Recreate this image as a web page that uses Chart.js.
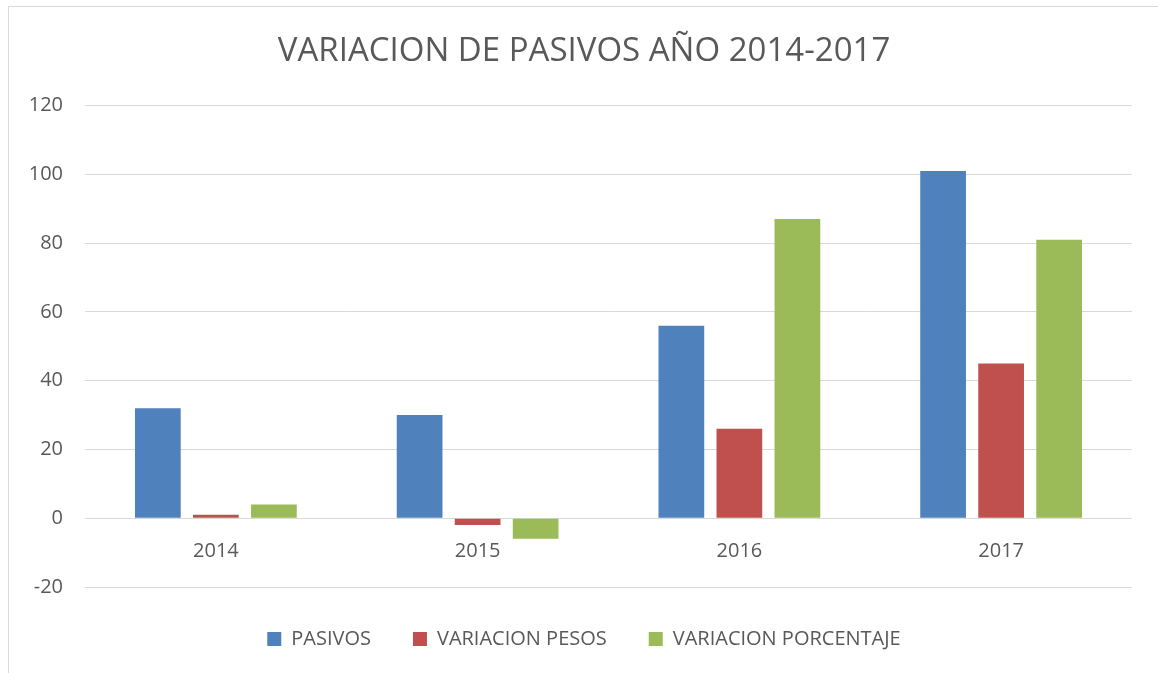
<!DOCTYPE html>
<html>
<head>
<meta charset="utf-8">
<script src="https://cdn.jsdelivr.net/npm/chart.js@4/dist/chart.umd.min.js"></script>
<style>
  html, body { margin: 0; padding: 0; background: #fff; overflow: hidden; }
  .frame { position: absolute; left: 8px; top: 6px; width: 1200px; height: 700px; border: 1px solid #d9d9d9; }
  .wrap { position: absolute; left: 0; top: 0; width: 1158px; height: 673px; }
</style>
</head>
<body>
<div class="frame"></div>
<div class="wrap"><canvas id="chart" width="1158" height="673"></canvas></div>
<script>
// Values
const years = ['2014', '2015', '2016', '2017'];
const pasivos = [32, 30, 56, 101];
const variacionPesos = [1, -2, 26, 45];
const variacionPorcentaje = [4, -6, 87, 81];

const textColor = '#595959';
const gridColor = '#d9d9d9';
const fontFamily = '"Open Sans", "Noto Sans", sans-serif';

new Chart(document.getElementById('chart'), {
  type: 'bar',
  data: {
    labels: years,
    datasets: [
      { label: 'PASIVOS', data: pasivos, backgroundColor: '#4f81bd' },
      { label: 'VARIACION PESOS', data: variacionPesos, backgroundColor: '#c0504d' },
      { label: 'VARIACION PORCENTAJE', data: variacionPorcentaje, backgroundColor: '#9bbb59' },
    ],
  },
  options: {
    responsive: false,
    animation: false,
    categoryPercentage: 0.665,
    barPercentage: 0.788,
    // left padding centres the title and legend on the framed box
    layout: { padding: { left: 10, right: 0, top: 0, bottom: 14 } },
    plugins: {
      title: {
        display: true,
        text: 'VARIACION DE PASIVOS AÑO 2014-2017',
        color: textColor,
        font: { family: fontFamily, size: 33, weight: 'normal', lineHeight: 1.2 },
        padding: { top: 32, bottom: 34 },
      },
      legend: {
        position: 'bottom',
        labels: {
          color: textColor,
          font: { family: fontFamily, size: 20 },
          boxWidth: 14,
          boxHeight: 14,
          padding: 42,
        },
      },
      tooltip: { enabled: false },
    },
    scales: {
      x: {
        position: { y: 0 },
        grid: { display: false, drawTicks: false },
        border: { display: false },
        ticks: { color: textColor, font: { family: fontFamily, size: 20 }, padding: 21 },
      },
      y: {
        min: -20,
        max: 120,
        ticks: { stepSize: 20, color: textColor, font: { family: fontFamily, size: 20 }, padding: 22 },
        grid: { color: gridColor, lineWidth: 1, drawTicks: false },
        border: { display: false },
        afterFit: (s) => { s.width = 75; },
      },
      // empty right gutter so the plot ends where the reference gridlines end
      gutter: {
        axis: 'y',
        position: 'right',
        display: true,
        grid: { display: false },
        border: { display: false },
        ticks: { display: false },
        afterFit: (s) => { s.width = 26; },
      },
    },
  },
});
</script>
</body>
</html>
